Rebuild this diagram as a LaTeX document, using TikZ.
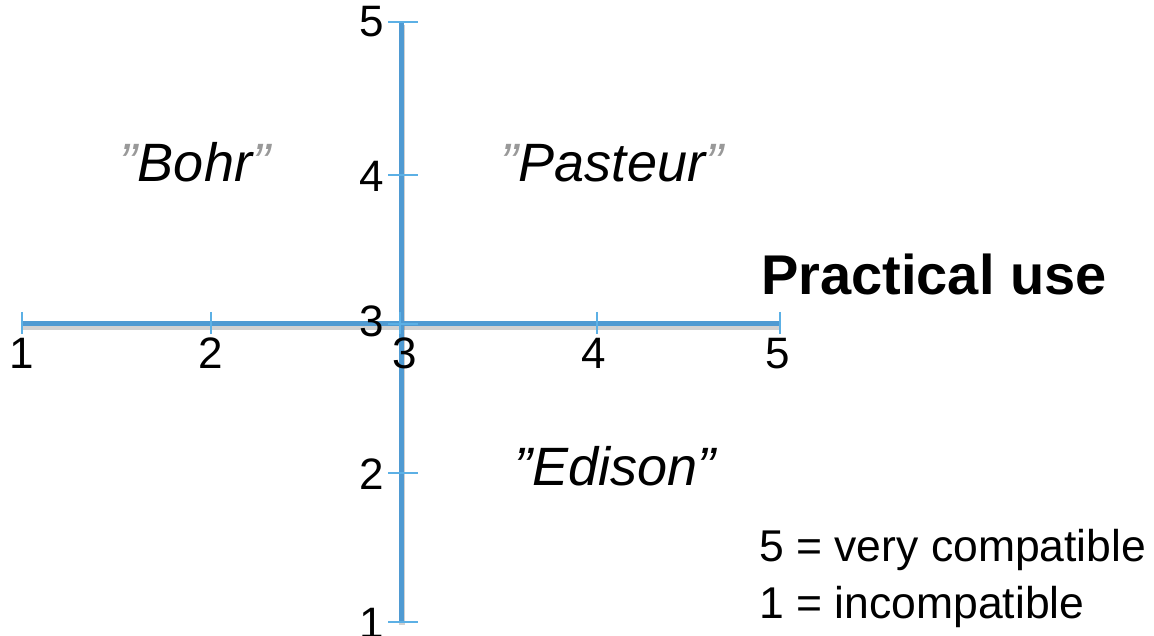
\documentclass[tikz,border=0pt]{standalone}
\usepackage{fontspec}
\setmainfont{Liberation Sans}
\definecolor{axisblue}{HTML}{4F9AD2}
\definecolor{tickblue}{HTML}{5CB0E5}
\definecolor{quotegrey}{HTML}{999999}
\begin{document}
\begin{tikzpicture}[x=1pt,y=-1pt,
  axisline/.style={line width=5pt, axisblue},
  shadowline/.style={line width=6pt, black, opacity=0.18},
  tickline/.style={line width=2pt, tickblue},
  num/.style={font=\fontsize{44}{44}\selectfont, inner sep=0pt, anchor=base},
  quad/.style={font=\fontsize{54}{54}\selectfont\itshape, inner sep=0pt, anchor=base},
  axtitle/.style={font=\fontsize{56}{56}\selectfont\bfseries, inner sep=0pt, anchor=base west},
  legend/.style={font=\fontsize{44.5}{44.5}\selectfont, inner sep=0pt, anchor=base west}]
\useasboundingbox (0,0) rectangle (1154,636);
\coordinate (xl) at (22,324);
\coordinate (xr) at (780,324);
\coordinate (yt) at (401,22);
\coordinate (yb) at (401,622);
% shadows
\draw[shadowline, transform canvas={yshift=-3pt}] (xl) -- (xr);
\draw[shadowline, transform canvas={xshift=1pt,yshift=-3pt}] (yt) -- (yb);
% axes
\draw[axisline] (xl) -- (xr);
\draw[axisline] (yt) -- (yb);
% ticks
\foreach \x in {22,211,400,597,780} \draw[tickline] (\x,312) -- (\x,334);
\foreach \y in {22,175,324,473,622} \draw[tickline] (388,\y) -- (418,\y);
% horizontal labels
\node[num] (h1) at (22,368) {1};
\node[num] (h2) at (211,368) {2};
\node[num] (h3) at (405,368) {3};
\node[num] (h4) at (594,368) {4};
\node[num] (h5) at (778,368) {5};
% vertical labels
\node[num] (v5) at (372,37) {5};
\node[num] (v4) at (372,192) {4};
\node[num] (v3) at (372,337) {3};
\node[num] (v2) at (372,489) {2};
\node[num] (v1) at (372,638) {1};
% quadrants
\node[quad] (bohr) at (195,182) {\textcolor{quotegrey}{”}Bohr\textcolor{quotegrey}{”}};
\node[quad] (pasteur) at (612,182) {\textcolor{quotegrey}{”}Pasteur\textcolor{quotegrey}{”}};
\node[quad] (edison) at (615,485) {”Edison”};
% axis title
\node[axtitle] (pu) at (761,295) {Practical use};
% legend
\node[legend] (l5) at (759,561) {5 = very compatible};
\node[legend] (l1) at (759,618) {1 = incompatible};
\end{tikzpicture}
\end{document}
